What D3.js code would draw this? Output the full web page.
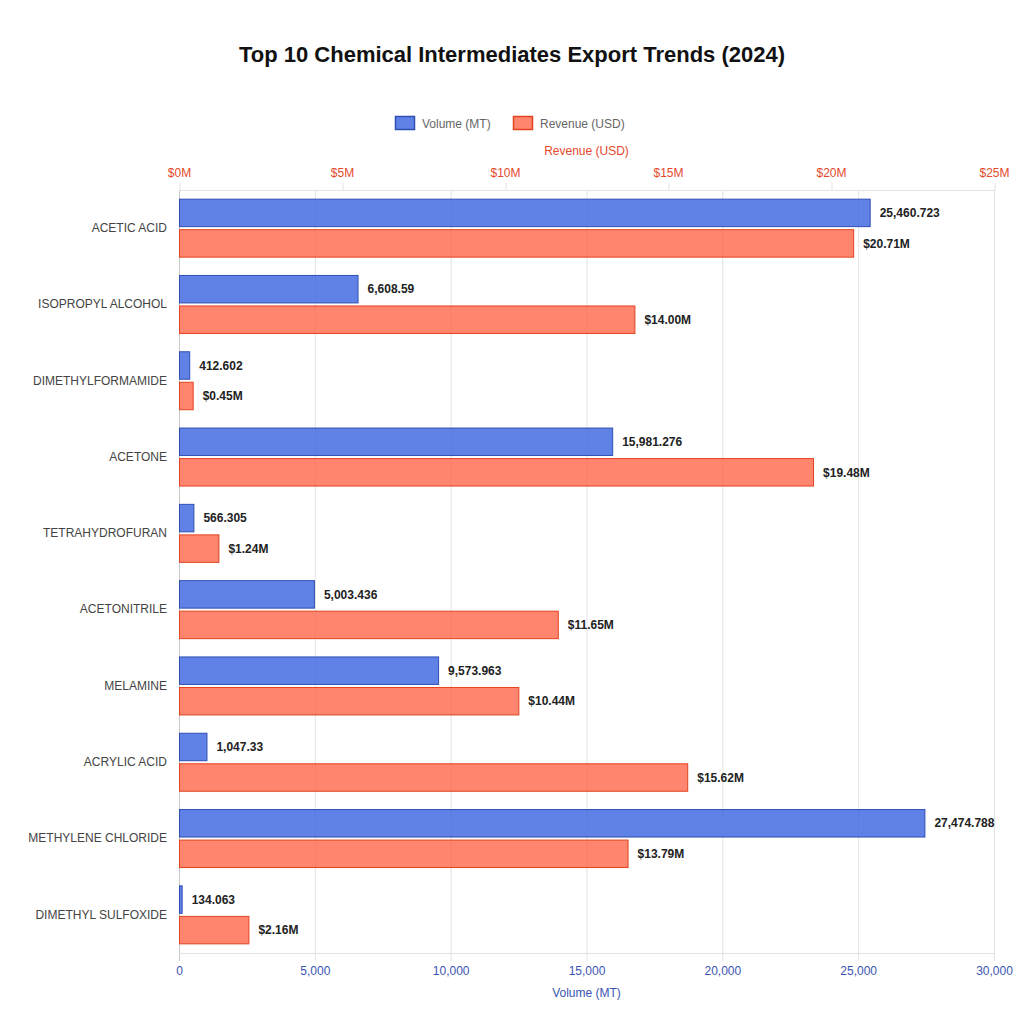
<!DOCTYPE html>
<html>
<head>
<meta charset="utf-8">
<style>
    body { margin: 0; background: #fff; }
    svg { display: block; font-family: "Liberation Sans", Arial, sans-serif; }
</style>
</head>
<body>
<svg id="chart" width="1024" height="1024"></svg>

<script src="https://cdnjs.cloudflare.com/ajax/libs/d3/7.8.5/d3.min.js"></script>
<script>
    var categories = ["ACETIC ACID", "ISOPROPYL ALCOHOL", "DIMETHYLFORMAMIDE", "ACETONE", "TETRAHYDROFURAN",
        "ACETONITRILE", "MELAMINE", "ACRYLIC ACID", "METHYLENE CHLORIDE", "DIMETHYL SULFOXIDE"]
    var volume = [25460.723, 6608.59, 412.602, 15981.276, 566.305, 5003.436, 9573.963, 1047.33, 27474.788, 134.063]
    var revenue = [20.71, 14.00, 0.45, 19.48, 1.24, 11.65, 10.44, 15.62, 13.79, 2.16]   // millions USD
    var volumeTicks = [0, 5000, 10000, 15000, 20000, 25000, 30000]
    var revenueTicks = [0, 5, 10, 15, 20, 25]

    var blueFill = "rgba(65,105,225,0.84)", blueLine = "#2f4fb3"
    var redFill = "rgba(255,99,71,0.78)", redLine = "#e2431f"
    var blueText = "#3a55b3", redText = "#e4492b"

    var svg = d3.select("#chart")
    var plotLeft = 179, plotRight = 994, plotTop = 190, plotBottom = 953

    var xVol = d3.scaleLinear().domain([0, 30000]).range([plotLeft, plotRight])
    var xRev = d3.scaleLinear().domain([0, 25]).range([plotLeft, plotRight])
    var y0 = d3.scaleBand().domain(categories).range([plotTop, plotBottom])
    var bw = y0.bandwidth()
    var y1 = d3.scaleBand().domain(["vol", "rev"]).range([0.1 * bw, 0.9 * bw]).paddingInner(0.1).paddingOuter(0.05)

    var rows = categories.map(function(c, i) { return {name: c, vol: volume[i], rev: revenue[i]} })

    // title
    svg.append("text")
        .attr("x", 512).attr("y", 62)
        .attr("text-anchor", "middle")
        .style("font-size", "22px").style("font-weight", "bold").style("fill", "#111")
        .text("Top 10 Chemical Intermediates Export Trends (2024)")

    // legend
    var legend = [{label: "Volume (MT)", fill: blueFill, stroke: blueLine, x: 395},
                  {label: "Revenue (USD)", fill: redFill, stroke: redLine, x: 513}]
    var lg = svg.selectAll(".legend").data(legend).enter().append("g")
        .attr("transform", function(d) { return "translate(" + d.x + ",116)" })
    lg.append("rect").attr("x", 0.5).attr("y", 0.5).attr("width", 19).attr("height", 13)
        .attr("fill", function(d) { return d.fill }).attr("stroke", function(d) { return d.stroke }).attr("stroke-width", 1.5)
    lg.append("text").attr("x", 27).attr("y", 11.5)
        .style("font-size", "12px").style("fill", "#666")
        .text(function(d) { return d.label })

    // grid (volume ticks)
    svg.append("g").selectAll("line").data(volumeTicks).enter().append("line")
        .attr("x1", function(d) { return xVol(d) + 0.5 }).attr("x2", function(d) { return xVol(d) + 0.5 })
        .attr("y1", plotTop).attr("y2", plotBottom + 8)
        .attr("stroke", function(d) { return d === 0 ? "#c8c8c8" : "#e2e2e2" })
    svg.append("line").attr("x1", plotLeft).attr("x2", plotRight + 1).attr("y1", plotTop + 0.5).attr("y2", plotTop + 0.5).attr("stroke", "#e2e2e2")
    svg.append("line").attr("x1", plotLeft).attr("x2", plotRight + 1).attr("y1", plotBottom + 0.5).attr("y2", plotBottom + 0.5).attr("stroke", "#e2e2e2")

    // bottom axis
    var bottomAxis = svg.append("g").attr("transform", "translate(0," + plotBottom + ")")
        .call(d3.axisBottom(xVol).tickValues(volumeTicks).tickFormat(d3.format(",")).tickSize(0).tickPadding(13))
    bottomAxis.select(".domain").remove()
    bottomAxis.selectAll("text").style("font-size", "12px").style("fill", blueText).style("font-family", "Liberation Sans, Arial, sans-serif")
    svg.append("text").attr("x", (plotLeft + plotRight) / 2).attr("y", 997).attr("text-anchor", "middle")
        .style("font-size", "12px").style("fill", blueText).text("Volume (MT)")

    // top axis
    var topAxis = svg.append("g").attr("transform", "translate(0," + plotTop + ")")
        .call(d3.axisTop(xRev).tickValues(revenueTicks).tickFormat(function(d) { return "$" + d + "M" }).tickSize(7).tickPadding(6))
    topAxis.select(".domain").remove()
    topAxis.selectAll("line").attr("stroke", "#e2e2e2").attr("transform", "translate(0.5,0)")
    topAxis.selectAll("text").style("font-size", "12px").style("fill", redText).style("font-family", "Liberation Sans, Arial, sans-serif")
    svg.append("text").attr("x", (plotLeft + plotRight) / 2).attr("y", 155).attr("text-anchor", "middle")
        .style("font-size", "12px").style("fill", redText).text("Revenue (USD)")

    // category labels
    var leftAxis = svg.append("g").attr("transform", "translate(" + plotLeft + ",0)")
        .call(d3.axisLeft(y0).tickSize(0).tickPadding(12))
    leftAxis.select(".domain").remove()
    leftAxis.selectAll("text").style("font-size", "12px").style("fill", "#444").style("font-family", "Liberation Sans, Arial, sans-serif")

    // bars
    var group = svg.append("g").selectAll("g").data(rows).enter().append("g")
        .attr("transform", function(d) { return "translate(0," + y0(d.name) + ")" })

    group.append("rect")
        .attr("x", plotLeft + 0.5).attr("y", y1("vol"))
        .attr("width", function(d) { return Math.max(xVol(d.vol) - plotLeft - 1, 0.5) })
        .attr("height", y1.bandwidth())
        .attr("fill", blueFill).attr("stroke", blueLine).attr("stroke-width", 1)
    group.append("rect")
        .attr("x", plotLeft + 0.5).attr("y", y1("rev"))
        .attr("width", function(d) { return Math.max(xRev(d.rev) - plotLeft - 1, 0.5) })
        .attr("height", y1.bandwidth())
        .attr("fill", redFill).attr("stroke", redLine).attr("stroke-width", 1)

    var volFmt = function(v) { return v.toLocaleString("en-US", {maximumFractionDigits: 3}) }
    group.append("text")
        .attr("x", function(d) { return xVol(d.vol) + 9 })
        .attr("y", y1("vol") + y1.bandwidth() / 2).attr("dy", "0.35em")
        .style("font-size", "12px").style("font-weight", "bold").style("fill", "#222")
        .text(function(d) { return volFmt(d.vol) })
    group.append("text")
        .attr("x", function(d) { return xRev(d.rev) + 9 })
        .attr("y", y1("rev") + y1.bandwidth() / 2).attr("dy", "0.35em")
        .style("font-size", "12px").style("font-weight", "bold").style("fill", "#222")
        .text(function(d) { return "$" + d.rev.toFixed(2) + "M" })
</script>
</body>
</html>
